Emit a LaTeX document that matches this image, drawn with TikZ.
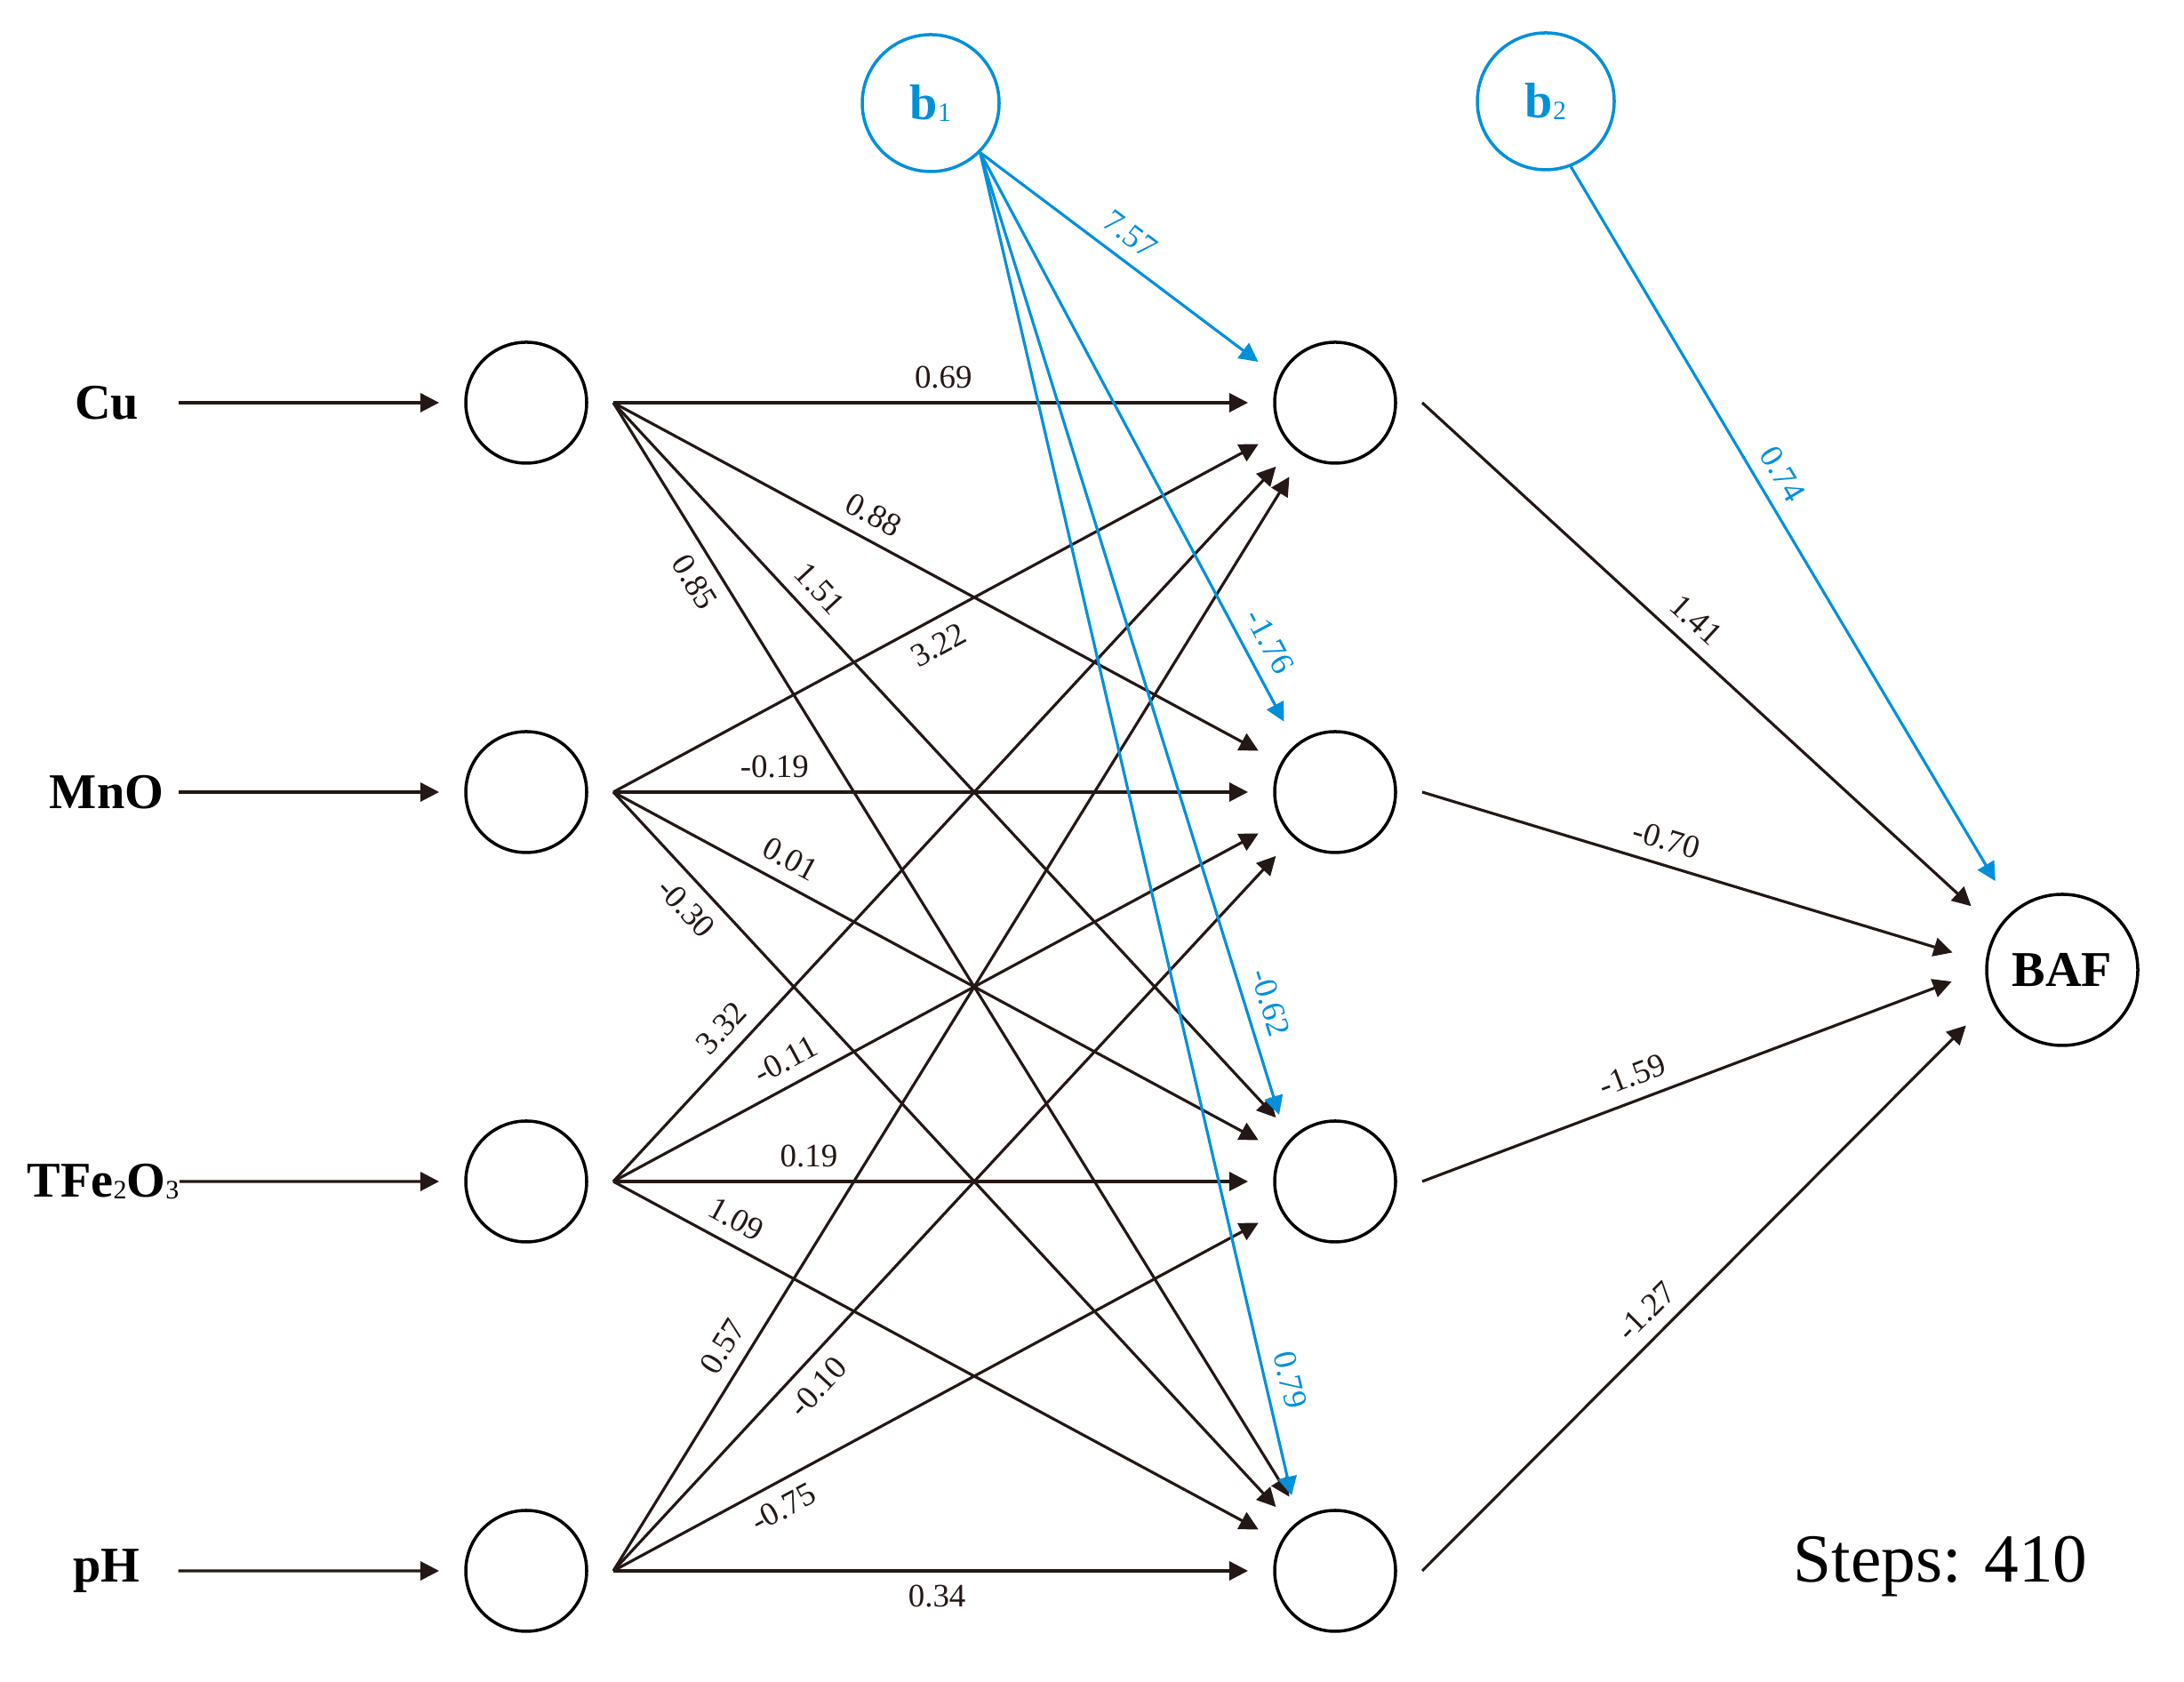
\documentclass[tikz,border=0pt]{standalone}
\usepackage{fontspec}
\setmainfont{Liberation Serif}
\usetikzlibrary{positioning, arrows.meta}
\definecolor{biasblue}{RGB}{0,144,218}
\definecolor{wline}{HTML}{231815}
\newcommand{\smallsub}[1]{\raisebox{-0.6pt}{\mdseries\fontsize{8.5}{9}\selectfont#1}}

\begin{document}
\begin{tikzpicture}[node distance=2.42cm, >={Triangle[length=6pt,width=6pt]}]
  \tikzstyle{neuron}=[circle,draw,line width=1pt,minimum size=1.36cm,inner sep=0pt,outer sep=0.3cm]
  \tikzstyle{bias}=[circle,draw=biasblue,text=biasblue,line width=1pt,minimum size=1.54cm,inner sep=0pt,font=\fontsize{16}{18}\selectfont\bfseries]
  \tikzstyle{var}=[minimum width=1.6cm,inner sep=0pt,font=\fontsize{16}{18}\selectfont\bfseries]
  \tikzstyle{w}=[sloped,inner sep=4pt,font=\fontsize{10.5}{12}\selectfont]
  \useasboundingbox (0,0) rectangle (24.57,18.92);

  \node[neuron] (I1) at (5.92,14.39) {};
  \node[neuron, below=of I1] (I2) {};
  \node[neuron, below=of I2] (I3) {};
  \node[neuron, below=of I3] (I4) {};
  \node[neuron, right=7.14cm of I1] (H1) {};
  \node[neuron, below=of H1] (H2) {};
  \node[neuron, below=of H2] (H3) {};
  \node[neuron, below=of H3] (H4) {};
  \node[neuron, minimum size=1.7cm, outer sep=0.4cm, font=\fontsize{16}{18}\selectfont\bfseries] (BAF) at (23.20,8.01) {BAF};
  \node[bias] (B1) at (10.47,17.76) {b\smallsub{1}};
  \node[bias] (B2) at (17.39,17.78) {b\smallsub{2}};

  \node[var] (Cu) at (1.2,14.39) {Cu};
  \node[var] (MnO) at (1.2,10.01) {MnO};
  \node[var] (TFe) at (1.16,5.63) {TFe\smallsub{2}O\smallsub{3}};
  \node[var] (pH) at (1.2,1.25) {pH};
  \node[font=\fontsize{22}{26}\selectfont] (steps) at (21.83,1.30) {Steps: 410};

  \path[->, wline, line width=0.9pt]
    (Cu) edge (I1)
    (MnO) edge (I2)
    (TFe) edge (I3)
    (pH) edge (I4);
  % input -> hidden
  \path[->, wline, line width=0.9pt]
    (I1.east) edge node[w,above,pos=0.52]{0.69} (H1)
    (I1.east) edge node[w,above,pos=0.385]{0.88} (H2)
    (I1.east) edge node[w,above,pos=0.284]{1.51} (H3)
    (I1.east) edge node[w,below,pos=0.152]{0.85} (H4)
    (I2.east) edge node[w,below,pos=0.486]{3.22} (H1)
    (I2.east) edge node[w,above,pos=0.254]{-0.19} (H2)
    (I2.east) edge node[w,above,pos=0.256]{0.01} (H3)
    (I2.east) edge node[w,below,pos=0.138]{-0.30} (H4)
    (I3.east) edge node[w,above,pos=0.191]{3.32} (H1)
    (I3.east) edge node[w,above,pos=0.286]{-0.11} (H2)
    (I3.east) edge node[w,above,pos=0.308]{0.19} (H3)
    (I3.east) edge node[w,above,pos=0.172]{1.09} (H4)
    (I4.east) edge node[w,above,pos=0.193]{0.57} (H1)
    (I4.east) edge node[w,below,pos=0.281]{-0.10} (H2)
    (I4.east) edge node[w,below,pos=0.245]{-0.75} (H3)
    (I4.east) edge node[w,below,pos=0.51]{0.34} (H4);
  % hidden -> output
  \path[->, wline, line width=0.9pt]
    (H1.east) edge node[w,above,pos=0.468]{1.41} (BAF.145)
    (H2.east) edge node[w,above,pos=0.447]{-0.70} (BAF.171)
    (H3.east) edge node[w,above,pos=0.414]{-1.59} (BAF.186)
    (H4.east) edge node[w,above,pos=0.444]{-1.27} (BAF.210);
  % biases
  \path[->, biasblue, line width=0.9pt]
    (B1.-45) edge node[w,above,pos=0.485]{7.57} (H1.152)
    (B1.-45) edge node[w,above,pos=0.88]{-1.76} (H2.126)
    (B1.-45) edge node[w,above,pos=0.891]{-0.62} (H3.130)
    (B1.-45) edge node[w,above,pos=0.918]{0.79} (H4.120)
    (B2.-69) edge node[w,above,pos=0.448]{0.74} (BAF.127);

\end{tikzpicture}
\end{document}
